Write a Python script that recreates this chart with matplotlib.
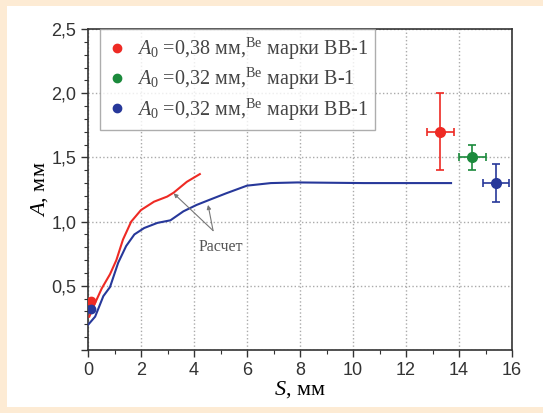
import matplotlib
matplotlib.use("Agg")
import matplotlib.pyplot as plt
from matplotlib.patches import Rectangle
from matplotlib.ticker import MultipleLocator, FuncFormatter

# Расчетные кривые
s_red = [0.05, 0.21, 0.52, 0.83, 1.07, 1.32, 1.63, 2.0, 2.49, 2.99, 3.23, 3.73, 4.22]
a_red = [0.26, 0.34, 0.48, 0.59, 0.70, 0.86, 1.00, 1.09, 1.155, 1.195, 1.225, 1.31, 1.37]

s_blue = [0.02, 0.27, 0.58, 0.83, 1.14, 1.44, 1.75, 2.12, 2.62, 3.11, 3.6, 4.1, 4.59, 5.21,
          6.0, 6.9, 7.9, 10.4, 12.0, 13.7]
a_blue = [0.20, 0.26, 0.42, 0.49, 0.68, 0.81, 0.90, 0.95, 0.99, 1.01, 1.08, 1.13, 1.17, 1.22,
          1.28, 1.30, 1.305, 1.30, 1.30, 1.30]

# Эксперимент: начальная амплитуда и конечные точки с погрешностями
a0 = [0.38, 0.32, 0.32]
s_end = [13.3, 14.5, 15.4]
a_end = [1.7, 1.5, 1.3]
s_err = [0.5, 0.5, 0.5]
a_err = [0.3, 0.1, 0.15]
colors = ['#ee2a24', '#1b8a3c', '#27389a']
labels = [r'$A_0$ =0,38 мм,$^{\rm Be}$ марки ВВ-1',
          r'$A_0$ =0,32 мм,$^{\rm Be}$ марки В-1',
          r'$A_0$ =0,32 мм,$^{\rm Be}$ марки ВВ-1']

plt.rcParams['mathtext.fontset'] = 'custom'
plt.rcParams['mathtext.rm'] = 'Liberation Serif'
plt.rcParams['mathtext.it'] = 'Liberation Serif:italic'

fig = plt.figure(figsize=(5.43, 4.13), dpi=100, facecolor='#fdebd4')
fig.patches.append(Rectangle((7 / 543, 6 / 413), 536 / 543, 401 / 413,
                             transform=fig.transFigure, facecolor='white',
                             edgecolor='none', zorder=-10))
ax = fig.add_axes([88 / 543, 1 - 350 / 413, 424 / 543, 321 / 413])

ax.plot(s_red, a_red, color=colors[0], lw=1.5, zorder=3)
ax.plot(s_blue, a_blue, color=colors[2], lw=1.5, zorder=3)

for i in [0, 2]:
    ax.plot(0.12, a0[i], 'o', color=colors[i], ms=6, zorder=4)

for i in range(3):
    ax.errorbar(s_end[i], a_end[i], xerr=s_err[i], yerr=a_err[i], fmt='o',
                color=colors[i], ms=7, elinewidth=1.2, capsize=3, capthick=1.2, zorder=4)

# Подписи для легенды
for i in range(3):
    ax.plot([], [], 'o', color=colors[i], ms=6, label=labels[i])

arrow_kw = dict(arrowstyle='-|>', color='#777777', lw=0.8, mutation_scale=6,
                shrinkA=0, shrinkB=0)
ax.text(5.0, 0.80, 'Расчет', ha='center', va='center', fontsize=11.5,
        family='Liberation Serif', color='#555555')
ax.annotate('', xy=(3.23, 1.22), xytext=(4.72, 0.93), arrowprops=arrow_kw)
ax.annotate('', xy=(4.53, 1.13), xytext=(4.72, 0.93), arrowprops=arrow_kw)

ax.set_xlim(0, 16)
ax.set_ylim(0, 2.5)
ax.xaxis.set_major_locator(MultipleLocator(2))
ax.xaxis.set_minor_locator(MultipleLocator(1))
ax.yaxis.set_major_locator(MultipleLocator(0.5))
ax.yaxis.set_minor_locator(MultipleLocator(0.1))
ax.yaxis.set_major_formatter(FuncFormatter(
    lambda v, p: '' if v == 0 else f'{v:.1f}'.replace('.', ',')))
ax.tick_params(which='major', direction='out', length=5, width=1,
               labelsize=13, colors='#333333')
ax.tick_params(which='minor', direction='out', length=3, width=0.8, colors='#333333')
for lab in ax.get_xticklabels() + ax.get_yticklabels():
    lab.set_family('Liberation Sans')
ax.grid(True, which='major', linestyle=':', color='#aaaaaa', lw=1)
for sp in ax.spines.values():
    sp.set_color('#333333')
    sp.set_linewidth(1.2)

ax.set_xlabel(r'$S$, мм', family='Liberation Serif', fontsize=16, labelpad=0)
ax.set_ylabel(r'$A$, мм', family='Liberation Serif', fontsize=16, labelpad=1)

leg = ax.legend(loc='upper left', bbox_to_anchor=(0.028, 1.0), borderaxespad=0,
                frameon=True, fancybox=False, edgecolor='#999999', handletextpad=0.5,
                handlelength=1.0, borderpad=0.35, labelspacing=0.2,
                prop={'family': 'Liberation Serif', 'size': 14.5})
leg.get_frame().set_linewidth(1)
for t in leg.get_texts():
    t.set_color('#444444')

fig.savefig('out.png', dpi=100, facecolor=fig.get_facecolor())
